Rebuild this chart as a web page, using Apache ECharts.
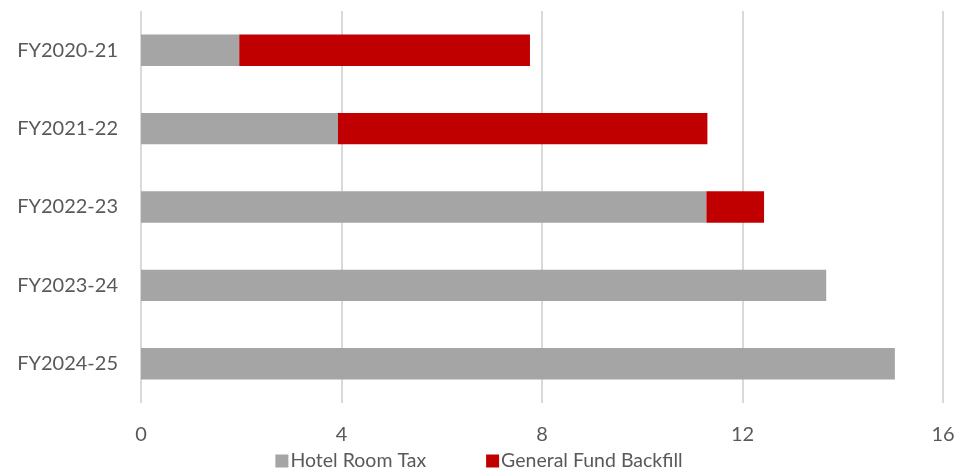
<!DOCTYPE html>
<html><head><meta charset="utf-8">
<script src="https://cdn.jsdelivr.net/npm/echarts@6/dist/echarts.min.js"></script>
<style>html,body{margin:0;padding:0;background:#fff}#c{width:958px;height:473px}</style>
</head><body><div id="c"></div>
<script>
const categories = ['FY2020-21','FY2021-22','FY2022-23','FY2023-24','FY2024-25'];
const hotelRoomTax = [1.96, 3.93, 11.28, 13.67, 15.04];
const generalFundBackfill = [5.80, 7.37, 1.15, 0, 0];
const xTicks = [0, 4, 8, 12, 16];

const chart = echarts.init(document.getElementById('c'));
const font = 'Lato, "Open Sans", sans-serif';
chart.setOption({
  animation: false,
  textStyle: { fontFamily: font },
  grid: { left: 141, right: 15, top: 11, bottom: 70, containLabel: false },
  legend: {
    bottom: -3, left: 'center', itemWidth: 13, itemHeight: 13, itemGap: 60,
    icon: 'rect',
    itemStyle: { borderWidth: 0 },
    textStyle: { fontSize: 19.5, color: '#595959', fontFamily: font, padding: [0,0,0,-3] },
    data: ['Hotel Room Tax', 'General Fund Backfill']
  },
  xAxis: {
    type: 'value', min: xTicks[0], max: xTicks[xTicks.length-1], interval: 4,
    axisLine: { show: false }, axisTick: { show: false },
    axisLabel: { fontSize: 20, color: '#595959', margin: 22, fontFamily: font },
    splitLine: { lineStyle: { color: '#D9D9D9', width: 2 } }
  },
  yAxis: {
    type: 'category', data: categories, inverse: true,
    axisLine: { show: false }, axisTick: { show: false },
    axisLabel: { fontSize: 20, color: '#595959', margin: 23, fontFamily: font }
  },
  series: [
    { name: 'Hotel Room Tax', type: 'bar', stack: 't', data: hotelRoomTax, barWidth: '40%',
      itemStyle: { color: '#A5A5A5' } },
    { name: 'General Fund Backfill', type: 'bar', stack: 't', data: generalFundBackfill, barWidth: '40%',
      itemStyle: { color: '#C00000' } }
  ]
});
</script></body></html>
